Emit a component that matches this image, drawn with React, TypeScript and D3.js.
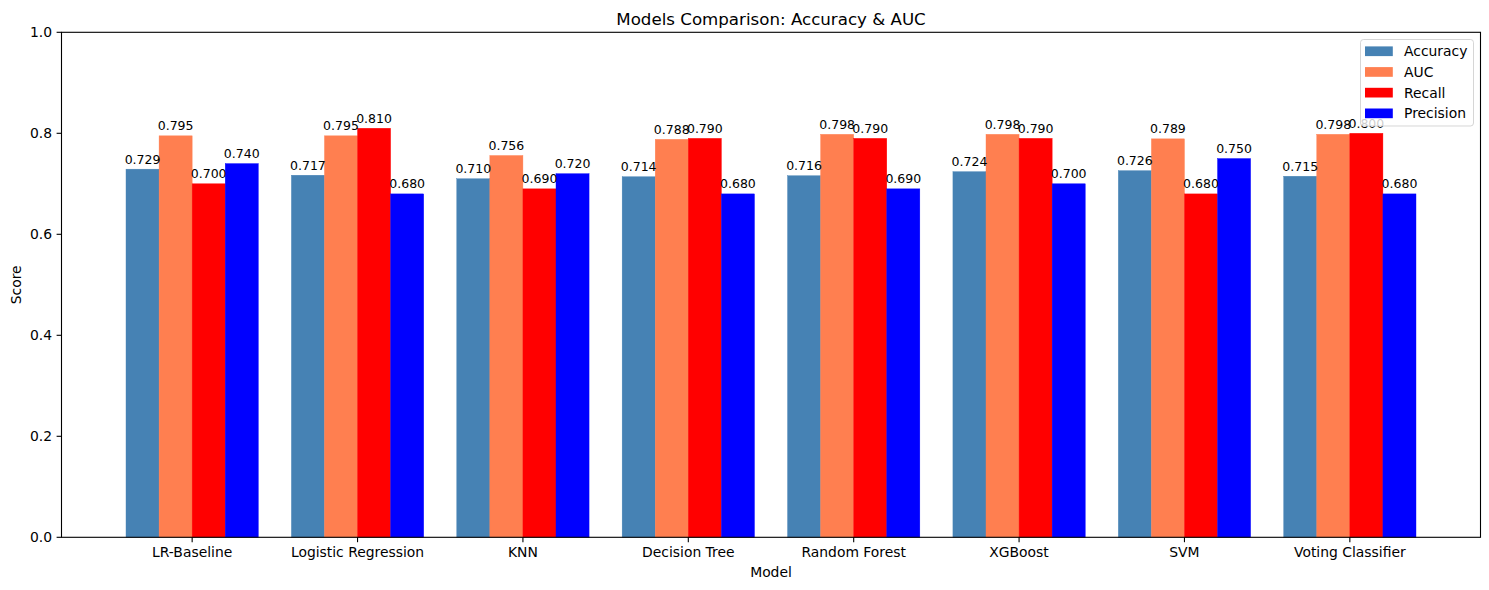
import React from "react";
import * as d3 from "d3";

const models = [
  "LR-Baseline",
  "Logistic Regression",
  "KNN",
  "Decision Tree",
  "Random Forest",
  "XGBoost",
  "SVM",
  "Voting Classifier",
];
const accuracy = [0.729, 0.717, 0.71, 0.714, 0.716, 0.724, 0.726, 0.715];
const auc = [0.795, 0.795, 0.756, 0.788, 0.798, 0.798, 0.789, 0.798];
const recall = [0.7, 0.81, 0.69, 0.79, 0.79, 0.79, 0.68, 0.8];
const precision = [0.74, 0.68, 0.72, 0.68, 0.69, 0.7, 0.75, 0.68];
const seriesNames = ["Accuracy", "AUC", "Recall", "Precision"];
const seriesColors = ["#4682b4", "#ff7f50", "#ff0000", "#0000ff"];
const yTicks = [0, 0.2, 0.4, 0.6, 0.8, 1.0];

const W = 1489;
const H = 590;
const left = 61.5;
const right = 1480.5;
const top = 32.3;
const bottom = 537.3;
const barW = 0.2;
const FONT = "DejaVu Sans, sans-serif";

export default function App() {
  const series = [accuracy, auc, recall, precision];
  const x = d3.scaleLinear().domain([-0.79, 7.79]).range([left, right]);
  const y = d3.scaleLinear().domain([0, 1]).range([bottom, top]);
  const bw = x(barW) - x(0);

  const legendX = 1360.5;
  const legendY = 39.5;
  const legendW = 113;
  const legendH = 86.5;
  const rowH = 20.7;

  return (
    <div style={{ position: "fixed", left: 0, top: 0 }}>
      <svg width={W} height={H} style={{ display: "block", fontFamily: FONT }}>
        <rect x={0} y={0} width={W} height={H} fill="#ffffff" />
        {/* bars */}
        {series.map((vals, j) =>
          vals.map((v, i) => {
            const cx = x(i + (j - 1.5) * barW);
            return (
              <rect
                key={`b-${j}-${i}`}
                x={cx - bw / 2}
                y={y(v)}
                width={bw}
                height={y(0) - y(v)}
                fill={seriesColors[j]}
                stroke={seriesColors[j]}
                strokeWidth={0.4}
              />
            );
          })
        )}
        {/* value labels */}
        {series.map((vals, j) =>
          vals.map((v, i) => {
            const cx = x(i + (j - 1.5) * barW);
            return (
              <text
                key={`l-${j}-${i}`}
                x={cx}
                y={y(v + 0.005) - 3}
                textAnchor="middle"
                fontSize={12.5}
                fill="#000"
              >
                {v.toFixed(3)}
              </text>
            );
          })
        )}
        {/* frame */}
        <rect
          x={left}
          y={top}
          width={right - left}
          height={bottom - top}
          fill="none"
          stroke="#000"
          strokeWidth={1.1}
        />
        {/* y ticks */}
        {yTicks.map((t) => (
          <g key={`yt-${t}`}>
            <line x1={left - 4.9} x2={left} y1={y(t)} y2={y(t)} stroke="#000" strokeWidth={1.1} />
            <text x={left - 9.5} y={y(t) + 5} textAnchor="end" fontSize={13.9} fill="#000">
              {t.toFixed(1)}
            </text>
          </g>
        ))}
        {/* x ticks */}
        {models.map((m, i) => (
          <g key={`xt-${m}`}>
            <line x1={x(i)} x2={x(i)} y1={bottom} y2={bottom + 4.9} stroke="#000" strokeWidth={1.1} />
            <text x={x(i)} y={557} textAnchor="middle" fontSize={13.9} fill="#000">
              {m}
            </text>
          </g>
        ))}
        {/* axis labels */}
        <text x={(left + right) / 2} y={577} textAnchor="middle" fontSize={13.9} fill="#000">
          Model
        </text>
        <text
          transform={`translate(20.7, ${(top + bottom) / 2}) rotate(-90)`}
          textAnchor="middle"
          fontSize={13.9}
          fill="#000"
        >
          Score
        </text>
        {/* title */}
        <text x={(left + right) / 2} y={24.5} textAnchor="middle" fontSize={16.67} fill="#000">
          Models Comparison: Accuracy &amp; AUC
        </text>
        {/* legend */}
        <rect
          x={legendX}
          y={legendY}
          width={legendW}
          height={legendH}
          rx={3}
          ry={3}
          fill="#ffffff"
          fillOpacity={0.8}
          stroke="#cccccc"
          strokeOpacity={0.8}
          strokeWidth={1}
        />
        {seriesNames.map((n, j) => {
          const cy = 51.3 + j * rowH;
          return (
            <g key={`lg-${n}`}>
              <rect x={1365} y={cy - 4.9} width={27.8} height={9.7} fill={seriesColors[j]} />
              <text x={1404} y={cy + 4.9} fontSize={13.9} fill="#000">
                {n}
              </text>
            </g>
          );
        })}
      </svg>
    </div>
  );
}
